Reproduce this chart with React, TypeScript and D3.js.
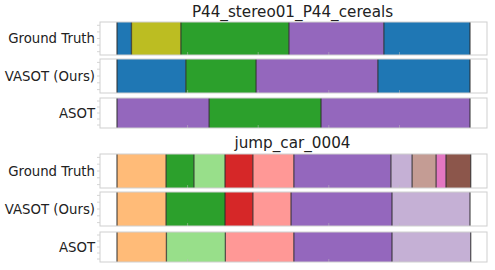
import React, { useEffect, useRef } from 'react';
import * as d3 from 'd3';

type Segment = { start: number; end: number; label: string };

// frame boundaries (video normalised to 1000 frames) and action labels per row
const rowNames = ['Ground Truth', 'VASOT (Ours)', 'ASOT'];

const cerealsTitle = 'P44_stereo01_P44_cereals';
const cerealsBounds = [
  [0, 41, 181, 487, 756, 1000],
  [0, 195, 394, 739, 1000],
  [0, 261, 578, 1000],
];
const cerealsLabels = [
  ['take_bowl', 'pour_cereals', 'pour_milk', 'stir_cereals', 'take_bowl'],
  ['take_bowl', 'pour_milk', 'stir_cereals', 'take_bowl'],
  ['stir_cereals', 'pour_milk', 'stir_cereals'],
];

const jumpTitle = 'jump_car_0004';
const jumpBounds = [
  [0, 139, 218, 306, 385, 501, 776, 836, 904, 932, 1002],
  [0, 139, 306, 385, 493, 779, 1000],
  [0, 140, 307, 501, 779, 1002],
];
const jumpLabels = [
  ['a1', 'a2', 'a3', 'a4', 'a5', 'a6', 'a7', 'a8', 'a9', 'a10'],
  ['a1', 'a2', 'a4', 'a5', 'a6', 'a7'],
  ['a1', 'a3', 'a5', 'a6', 'a7'],
];

const labelColors: Record<string, string> = {
  take_bowl: '#1f77b4',
  pour_cereals: '#bcbd22',
  pour_milk: '#2ca02c',
  stir_cereals: '#9467bd',
  a1: '#ffbb78',
  a2: '#2ca02c',
  a3: '#98df8a',
  a4: '#d62728',
  a5: '#ff9896',
  a6: '#9467bd',
  a7: '#c5b0d5',
  a8: '#c49c94',
  a9: '#e377c2',
  a10: '#8c564b',
};

const xTicks = [200, 400, 600, 800];

const toSegments = (bounds: number[], labels: string[]): Segment[] =>
  labels.map((label, i) => ({ start: bounds[i], end: bounds[i + 1], label }));

const App: React.FC = () => {
  const ref = useRef<SVGSVGElement>(null);

  useEffect(() => {
    const svgEl = ref.current;
    if (!svgEl) return;
    const svg = d3.select(svgEl);
    svg.selectAll('*').remove();

    /* ---------- Layout ---------- */
    const axLeft = 100;
    const axRight = 487;
    const barLeft = 117;
    const barRight = 470;
    const x = d3.scaleLinear().domain([0, 1000]).range([barLeft, barRight]);

    const panels = [
      { title: cerealsTitle, titleY: 17, bounds: cerealsBounds, labels: cerealsLabels, rows: [[22, 55], [59, 93], [98, 128]] },
      { title: jumpTitle, titleY: 148, bounds: jumpBounds, labels: jumpLabels, rows: [[154, 188], [192, 226], [232, 262]] },
    ];

    const font = 'DejaVu Sans, sans-serif';

    panels.forEach(panel => {
      svg
        .append('text')
        .attr('x', (axLeft + axRight) / 2 - 1)
        .attr('y', panel.titleY)
        .attr('text-anchor', 'middle')
        .style('font-family', font)
        .style('font-size', '15.2px')
        .attr('fill', '#222')
        .text(panel.title);

      panel.rows.forEach(([y0, y1], r) => {
        const g = svg.append('g');
        const segs = toSegments(panel.bounds[r], panel.labels[r]);

        // axes background
        g.append('rect')
          .attr('x', axLeft)
          .attr('y', y0)
          .attr('width', axRight - axLeft)
          .attr('height', y1 - y0)
          .attr('fill', '#fff');

        g.selectAll('rect.seg')
          .data(segs)
          .enter()
          .append('rect')
          .attr('class', 'seg')
          .attr('x', d => x(d.start))
          .attr('y', y0)
          .attr('width', d => x(d.end) - x(d.start))
          .attr('height', y1 - y0)
          .attr('fill', d => labelColors[d.label]);

        // faint ticks
        g.selectAll('line.xt')
          .data(xTicks)
          .enter()
          .append('line')
          .attr('x1', d => x(d))
          .attr('x2', d => x(d))
          .attr('y1', y1)
          .attr('y2', y1 - 3)
          .attr('stroke', '#bbb')
          .attr('stroke-width', 0.8)
          .attr('opacity', 0.7);

        const yt = d3.range(5).map(i => y0 + ((y1 - y0) * (i + 0.5)) / 5);
        g.selectAll('line.yt')
          .data(yt)
          .enter()
          .append('line')
          .attr('x1', axLeft - 3)
          .attr('x2', axLeft)
          .attr('y1', d => d)
          .attr('y2', d => d)
          .attr('stroke', '#ccc')
          .attr('stroke-width', 0.8);

        // segment edges
        const edges = panel.bounds[r];
        g.selectAll('line.edge')
          .data(edges)
          .enter()
          .append('line')
          .attr('x1', d => x(d))
          .attr('x2', d => x(d))
          .attr('y1', y0)
          .attr('y2', y1)
          .attr('stroke', '#2a2a2a')
          .attr('stroke-width', 1.3)
          .attr('opacity', 0.75);

        // axes frame
        g.append('rect')
          .attr('x', axLeft)
          .attr('y', y0)
          .attr('width', axRight - axLeft)
          .attr('height', y1 - y0)
          .attr('fill', 'none')
          .attr('stroke', '#cfcfcf')
          .attr('stroke-width', 1);

        svg
          .append('text')
          .attr('x', axLeft - 5)
          .attr('y', (y0 + y1) / 2)
          .attr('text-anchor', 'end')
          .attr('dominant-baseline', 'central')
          .style('font-family', font)
          .style('font-size', '13.3px')
          .attr('fill', '#222')
          .text(rowNames[r]);
      });
    });
  }, []);

  return (
    <svg
      ref={ref}
      width={495}
      height={270}
      style={{ position: 'absolute', left: 0, top: 0, background: '#fff' }}
    />
  );
};

export default App;
